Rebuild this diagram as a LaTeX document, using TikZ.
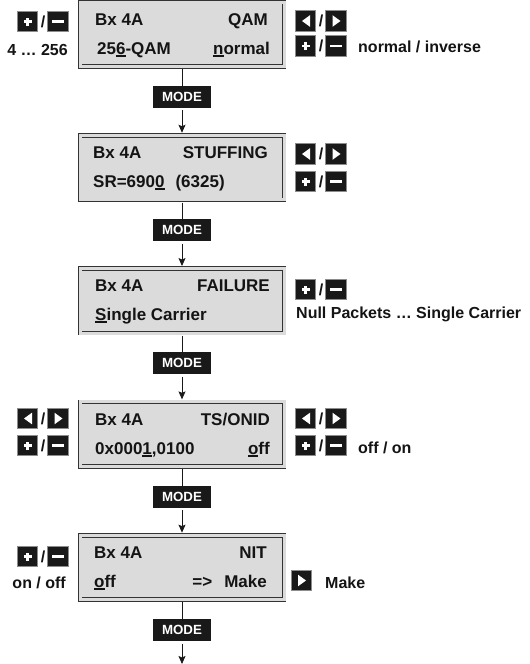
\documentclass[tikz,border=0pt]{standalone}
\usepackage{fontspec}
\setmainfont{Liberation Sans}
\usetikzlibrary{arrows.meta}
\newcommand\ulin[1]{\setbox0\hbox{#1}\rlap{\rule[-2.6pt]{\wd0}{1.5pt}}\box0}
\tikzset{
 disp/.style={draw=black!80, double=black!14, double distance=3pt, line width=0.8pt, fill=black!14, minimum width=204pt, minimum height=64.5pt, inner sep=0},
 dtext/.style={font=\bfseries\fontsize{17}{20}\selectfont, inner sep=0, text=black!92},
 stext/.style={font=\bfseries\fontsize{16}{19}\selectfont, inner sep=0, text=black!92},
 keysq/.style={fill=black!90, draw=black!45, line width=0.6pt, minimum size=20.5pt, inner sep=0},
 modebox/.style={fill=black!90, text=white, font=\bfseries\fontsize{13.3}{15}\selectfont, minimum width=58pt, minimum height=22pt, inner sep=0},
 flow/.style={line width=0.8pt, draw=black!90, shorten <=2.3pt, shorten >=2.2pt, -{Stealth[length=8pt,width=7pt,inset=1.5pt]}},
 flowplain/.style={line width=0.8pt, draw=black!90, shorten <=2.3pt},
}
\newcommand\kplus[3]{\node[keysq] (#1) at (#2,#3) {};
 \fill[white] (#2-4,#3-1.2) rectangle (#2+4,#3+1.2);
 \fill[white] (#2-1.2,#3-4) rectangle (#2+1.2,#3+4);}
\newcommand\kminus[3]{\node[keysq] (#1) at (#2,#3) {};
 \fill[white] (#2-5.8,#3-1.3) rectangle (#2+5.8,#3+1.3);}
\newcommand\kleft[3]{\node[keysq] (#1) at (#2,#3) {};
 \fill[white] (#2-3.5,#3) -- (#2+4.5,#3-5.8) -- (#2+4.5,#3+5.8) -- cycle;}
\newcommand\kright[3]{\node[keysq] (#1) at (#2,#3) {};
 \fill[white] (#2+4.5,#3) -- (#2-3.5,#3-5.8) -- (#2-3.5,#3+5.8) -- cycle;}
\begin{document}
\begin{tikzpicture}[x=1pt,y=-1pt]
\useasboundingbox (0,0) rectangle (530,664);
% displays
\node[disp] (d1) at (182,34.3) {};
\node[disp] (d2) at (182,167.6) {};
\node[disp] (d3) at (182,300.9) {};
\node[disp] (d4) at (182,434.2) {};
\node[disp] (d5) at (182,567.5) {};
% display texts
\node[dtext,anchor=base west] (t1a) at (95,25) {Bx 4A};
\node[dtext,anchor=base east] (t1b) at (268,25) {QAM};
\node[dtext,anchor=base west] (t1c) at (97,54) {25\ulin{6}-QAM};
\node[dtext,anchor=base east] (t1d) at (270,54) {\ulin{n}ormal};
\node[dtext,anchor=base west] (t2a) at (93,158.3) {Bx 4A};
\node[dtext,anchor=base east] (t2b) at (268,158.3) {STUFFING};
\node[dtext,anchor=base west] (t2c) at (93,187.3) {SR=690\ulin{0}\hspace{11pt}(6325)};
\node[dtext,anchor=base west] (t3a) at (95,291.6) {Bx 4A};
\node[dtext,anchor=base east] (t3b) at (270,291.6) {FAILURE};
\node[dtext,anchor=base west] (t3c) at (95,320) {\ulin{S}ingle Carrier};
\node[dtext,anchor=base west] (t4a) at (95,425) {Bx 4A};
\node[dtext,anchor=base east] (t4b) at (270,425) {TS/ONID};
\node[dtext,anchor=base west] (t4c) at (95,454) {0x000\ulin{1},0100};
\node[dtext,anchor=base east] (t4d) at (270,454) {\ulin{o}ff};
\node[dtext,anchor=base west] (t5a) at (94,558.3) {Bx 4A};
\node[dtext,anchor=base east] (t5b) at (267,558.3) {NIT};
\node[dtext,anchor=base west] (t5c) at (94,587.3) {\ulin{o}ff};
\node[dtext,anchor=base east] (t5d) at (267,587.3) {=>\hspace{12pt}Make};
% mode boxes
\node[modebox] (m1) at (182,96.8) {MODE};
\node[modebox] (m2) at (182,230.1) {MODE};
\node[modebox] (m3) at (182,363.4) {MODE};
\node[modebox] (m4) at (182,496.7) {MODE};
\node[modebox] (m5) at (182,630) {MODE};
\coordinate (end) at (182,664);
% connectors
\draw[flowplain] (d1.south) -- (m1.north);
\draw[flow] (m1.south) -- (d2.north);
\draw[flowplain] (d2.south) -- (m2.north);
\draw[flow] (m2.south) -- (d3.north);
\draw[flowplain] (d3.south) -- (m3.north);
\draw[flow] (m3.south) -- (d4.north);
\draw[flowplain] (d4.south) -- (m4.north);
\draw[flow] (m4.south) -- (d5.north);
\draw[flowplain] (d5.south) -- (m5.north);
\draw[flow, shorten >=0pt] (m5.south) -- (end);
% box 1 keys
\kplus{k1a}{27.5}{21.5} \node[stext] (s1a) at (43,21.5) {/}; \kminus{k1b}{58}{21.5}
\node[stext,anchor=base east] (l1) at (68,55.5) {4 … 256};
\kleft{k1c}{305.5}{21} \node[stext] (s1b) at (321,21) {/}; \kright{k1d}{336}{21}
\kplus{k1e}{305.5}{46} \node[stext] (s1c) at (321,46) {/}; \kminus{k1f}{336}{46}
\node[stext,anchor=base west] (l2) at (358,52.5) {normal / inverse};
% box 2 keys
\kleft{k2a}{305.5}{154} \node[stext] (s2a) at (321,154) {/}; \kright{k2b}{336}{154}
\kplus{k2c}{305.5}{181.5} \node[stext] (s2b) at (321,181.5) {/}; \kminus{k2d}{336}{181.5}
% box 3 keys
\kplus{k3a}{305.5}{289.5} \node[stext] (s3a) at (321,289.5) {/}; \kminus{k3b}{336}{289.5}
\node[stext,anchor=base west] (l3) at (296,318.7) {Null Packets … Single Carrier};
% box 4 keys
\kleft{k4a}{27.5}{418.5} \node[stext] (s4a) at (43,418.5) {/}; \kright{k4b}{58}{418.5}
\kplus{k4c}{27.5}{445.5} \node[stext] (s4b) at (43,445.5) {/}; \kminus{k4d}{58}{445.5}
\kleft{k4e}{305.5}{418.5} \node[stext] (s4c) at (321,418.5) {/}; \kright{k4f}{336}{418.5}
\kplus{k4g}{305.5}{445.5} \node[stext] (s4d) at (321,445.5) {/}; \kminus{k4h}{336}{445.5}
\node[stext,anchor=base west] (l4) at (358,453.7) {off / on};
% box 5 keys
\kplus{k5a}{27.5}{556.5} \node[stext] (s5a) at (43,556.5) {/}; \kminus{k5b}{58}{556.5}
\node[stext,anchor=base east] (l5) at (66,588.7) {on / off};
\kright{k5c}{301.5}{580.5}
\node[stext,anchor=base west] (l6) at (325,588.7) {Make};
\end{tikzpicture}
\end{document}
